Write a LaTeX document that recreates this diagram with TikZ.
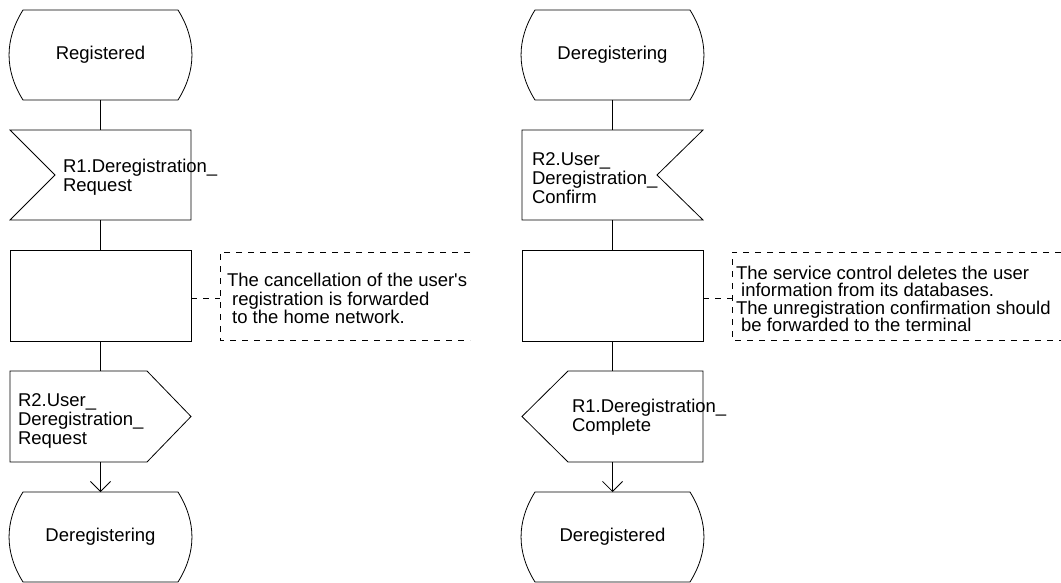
\documentclass[tikz,border=0pt]{standalone}
\usepackage{fontspec}
\newfontfamily\arial{Liberation Sans}
\usetikzlibrary{arrows.meta}
\tikzset{
  ln/.style={line width=0.8pt},
  shp/.style={minimum width=181pt, minimum height=90pt, inner sep=0pt, outer sep=0pt, font=\arial\fontsize{18.5}{19}\selectfont},
  txt/.style={inner sep=0pt, outer sep=0pt, align=left, anchor=west, font=\arial\fontsize{18.5}{19}\selectfont},
  cmt/.style={line width=0.8pt, dash pattern=on 6pt off 6pt},
  arr/.style={ln, -{Straight Barb[length=10pt, width=20pt, line width=0.8pt]}},
}
\newcommand\drawstate[1]{%
  \draw[ln] ([xshift=13pt]#1.north west) -- ([xshift=-13pt]#1.north east)
    to[bend left=32] ([xshift=-13pt]#1.south east) -- ([xshift=13pt]#1.south west)
    to[bend left=32] ([xshift=13pt]#1.north west) -- cycle;}
\begin{document}
\begin{tikzpicture}[x=1pt, y=1pt]
\useasboundingbox (0,0) rectangle (1061,-583);
% ---------- left column ----------
\node[shp] (s1) at (100.5,-55) {Registered};
\node[shp] (i1) at (100.5,-175) {};
\node[shp, draw, ln, minimum height=91pt] (t1) at (100.5,-295.5) {};
\node[shp, minimum height=91pt] (o1) at (100.5,-416.5) {};
\node[shp] (s2) at (100.5,-537) {Deregistering};
\drawstate{s1}
\drawstate{s2}
\draw[ln] (i1.north west) -- (i1.north east) -- (i1.south east) -- (i1.south west) -- ([xshift=45pt]i1.west) -- cycle;
\draw[ln] (o1.north west) -- ([xshift=-44pt]o1.north east) -- (o1.east) -- ([xshift=-44pt]o1.south east) -- (o1.south west) -- cycle;
\node[txt] (i1t) at (63,-177) {R1.Deregistration\_\\Request};
\node[txt] (o1t) at (18,-421) {R2.User\_\\Deregistration\_\\Request};
\draw[ln] (s1.south) -- (i1.north);
\draw[ln] (i1.south) -- (t1.north);
\draw[ln] (t1.south) -- (o1.north);
\draw[arr] (o1.south) -- (s2.north);
% comment left
\coordinate (c1) at (220,-298);
\draw[cmt] (470,-252) -- (220,-252) -- (220,-340) -- (470,-340);
\draw[cmt] ([yshift=-2.5pt]t1.east) -- (c1);
\node[txt, font=\arial\fontsize{18.5}{18.5}\selectfont] (c1t) at (227,-298.5) {The cancellation of the user's\\\ registration is forwarded\\\ to the home network.};
% ---------- right column ----------
\node[shp] (s3) at (612.5,-55) {Deregistering};
\node[shp] (i2) at (612.5,-175) {};
\node[shp, draw, ln, minimum height=91pt] (t2) at (612.5,-295.5) {};
\node[shp, minimum height=91pt] (o2) at (612.5,-416.5) {};
\node[shp] (s4) at (612.5,-537) {Deregistered};
\drawstate{s3}
\drawstate{s4}
\draw[ln] (i2.north west) -- (i2.north east) -- ([xshift=-46pt]i2.east) -- (i2.south east) -- (i2.south west) -- cycle;
\draw[ln] (o2.west) -- ([xshift=46pt]o2.north west) -- (o2.north east) -- (o2.south east) -- ([xshift=46pt]o2.south west) -- cycle;
\node[txt] (i2t) at (532,-178) {R2.User\_\\Deregistration\_\\Confirm};
\node[txt] (o2t) at (572,-417.5) {R1.Deregistration\_\\Complete};
\draw[ln] (s3.south) -- (i2.north);
\draw[ln] (i2.south) -- (t2.north);
\draw[ln] (t2.south) -- (o2.north);
\draw[arr] (o2.south) -- (s4.north);
% comment right
\coordinate (c2) at (732,-298);
\draw[cmt] (1061,-252) -- (732,-252) -- (732,-340) -- (1061,-340);
\draw[cmt] ([yshift=-2.5pt]t2.east) -- (c2);
\node[txt, font=\arial\fontsize{18.5}{17.5}\selectfont] (c2t) at (736,-299) {The service control deletes the user\\\ information from its databases.\\The unregistration confirmation should\\\ be forwarded to the terminal};
\end{tikzpicture}
\end{document}
